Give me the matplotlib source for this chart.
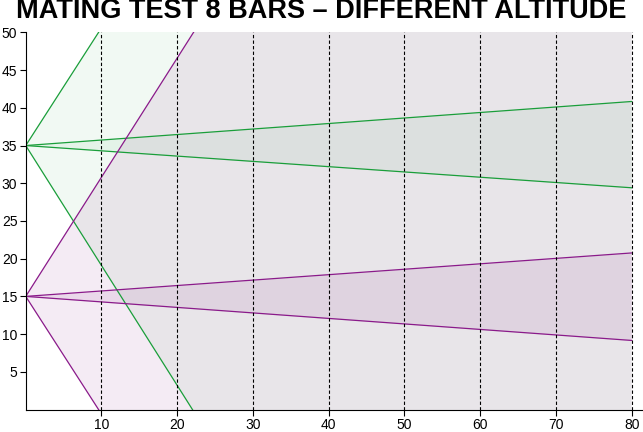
import numpy as np
import matplotlib.pyplot as plt

plt.rcParams['font.family'] = ['Liberation Sans', 'DejaVu Sans']

# origin heights of the two groups
green_y0 = 35
purple_y0 = 15
# slopes (wide wedge, narrow wedge)
green_wide = (1.56, -1.59)
green_narrow = (0.073, -0.070)
purple_wide = (1.58, -1.56)
purple_narrow = (0.072, -0.073)
x_ticks = [10, 20, 30, 40, 50, 60, 70, 80]
y_ticks = [5, 10, 15, 20, 25, 30, 35, 40, 45, 50]

green = '#1a9e3a'
purple = '#8a1a8a'

fig = plt.figure(figsize=(6.43, 4.32), dpi=100)
ax = fig.add_axes([0.04, 0.052, 0.96, 0.873])

x = np.linspace(0, 80, 200)
for y0, wide, narrow, c, a in [(green_y0, green_wide, green_narrow, green, 0.06),
                               (purple_y0, purple_wide, purple_narrow, purple, 0.085)]:
    for s1, s2 in [wide, narrow]:
        hi = y0 + s1 * x
        lo = y0 + s2 * x
        ax.fill_between(x, lo, hi, color=c, alpha=a, lw=0)
        ax.plot(x, hi, color=c, lw=0.9)
        ax.plot(x, lo, color=c, lw=0.9)

for xt in x_ticks:
    ax.axvline(xt, color='black', ls=(0, (3, 2)), lw=0.8)

ax.set_xlim(0, 81.5)
ax.set_ylim(0, 50)
ax.set_xticks(x_ticks)
ax.set_yticks(y_ticks)
ax.tick_params(labelsize=10, length=4, pad=2)
ax.spines['top'].set_visible(False)
ax.spines['right'].set_visible(False)
fig.suptitle('MATING TEST 8 BARS \u2013 DIFFERENT ALTITUDE', fontsize=19.5,
             fontweight='bold', y=1.005)
fig.savefig('out.png', dpi=100)
